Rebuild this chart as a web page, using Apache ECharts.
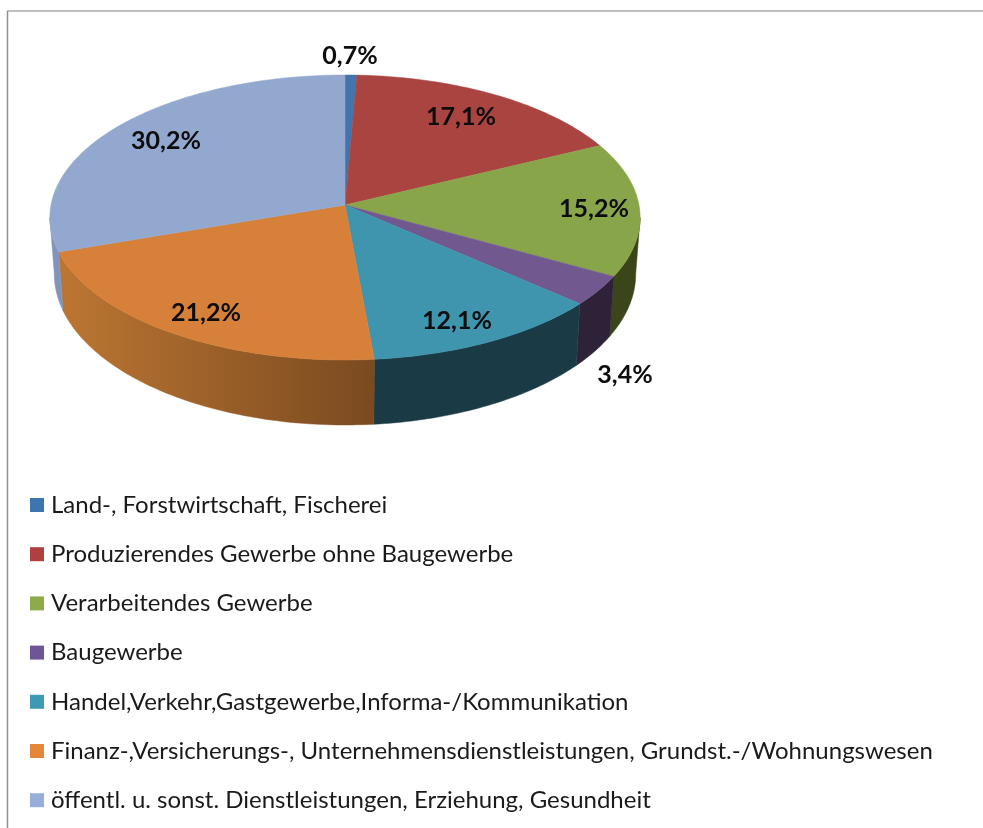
<!DOCTYPE html>
<html>
<head>
<meta charset="utf-8">
<style>
  html, body { margin: 0; padding: 0; background: #fff; }
  #chart { width: 983px; height: 828px; }
</style>
<script src="https://cdn.jsdelivr.net/npm/echarts@6/dist/echarts.min.js"></script>
</head>
<body>
<div id="chart"></div>
<script>
'use strict'

const categories = [
  'Land-, Forstwirtschaft, Fischerei',
  'Produzierendes Gewerbe ohne Baugewerbe',
  'Verarbeitendes Gewerbe',
  'Baugewerbe',
  'Handel,Verkehr,Gastgewerbe,Informa-/Kommunikation',
  'Finanz-,Versicherungs-, Unternehmensdienstleistungen, Grundst.-/Wohnungswesen',
  'öffentl. u. sonst. Dienstleistungen, Erziehung, Gesundheit'
]
const shares = [0.7, 17.1, 15.2, 3.4, 12.1, 21.2, 30.2]

const topColors = ['#4374ab', '#a94441', '#89a54a', '#71588f', '#4095ae', '#d6803a', '#92a8ce']
const legendColors = ['#3f75ae', '#b03f3f', '#8eab4b', '#6f5597', '#3e9ab2', '#e4873b', '#97aeda']
const wallColors = [
  ['#2b4a70', '#2b4a70'],
  ['#6a2b2a', '#6a2b2a'],
  ['#3a4519', '#3c4618'],
  ['#2e2239', '#2e2239'],
  ['#1a3a46', '#1d4250'],
  ['#7a4a20', '#bc7632'],
  ['#66789c', '#8094bc']
]
// label centres in page pixels
const labelPos = [[350, 56], [461, 117], [594, 209], [625, 375], [457, 321], [206, 313], [166, 141]]

const total = shares.reduce((a, b) => a + b, 0)
const starts = shares.map((_, i) => shares.slice(0, i).reduce((a, b) => a + b, 0))

// tilted disc: the apex sits above the ellipse centre because of the perspective
const cx = 345, cy = 205, kx = 294, ky = 141.4, persp = -0.0877
const wallFrom = 95, wallTo = 265

function rim (deg) {
  const t = deg * Math.PI / 180
  const u = Math.sin(t), v = -Math.cos(t)
  const d = 1 + persp * v
  return [cx + kx * u / d, cy + ky * v / d]
}
function rimLow (deg) {
  const p = rim(deg)
  return [cx + (p[0] - cx) * 0.985, p[1] + 60 + (p[1] - 277) * 0.06]
}
function arc (from, to, fn) {
  const pts = []
  const n = Math.max(2, Math.ceil(to - from))
  for (let i = 0; i <= n; i++) pts.push(fn(from + (to - from) * i / n))
  return pts
}

function renderSlice (params, api) {
  const i = params.seriesIndex
  const a0 = starts[i] / total * 360
  const a1 = a0 + api.value(0) / total * 360
  const children = []
  const w0 = Math.max(a0, wallFrom), w1 = Math.min(a1, wallTo)
  if (w1 > w0) {
    const upper = arc(w0, w1, rim)
    const lower = arc(w0, w1, rimLow).reverse()
    const fill = new echarts.graphic.LinearGradient(373, 0, 60, 0, [
      { offset: 0, color: wallColors[i][0] },
      { offset: 1, color: wallColors[i][1] }
    ], true)
    children.push({
      type: 'polygon',
      z2: 1,
      shape: { points: upper.concat(lower) },
      style: { fill: fill, stroke: fill, lineWidth: 0.5 }
    })
  }
  children.push({
    type: 'polygon',
    z2: 2,
    shape: { points: [[cx, cy]].concat(arc(a0, a1, rim)) },
    style: { fill: topColors[i], stroke: topColors[i], lineWidth: 0.5 }
  })
  children.push({
    type: 'text',
    z2: 3,
    style: {
      x: labelPos[i][0],
      y: labelPos[i][1],
      text: String(api.value(0)).replace('.', ',') + '%',
      font: 'bold 25px Lato',
      fill: '#0d0d0d',
      align: 'center',
      verticalAlign: 'middle'
    }
  })
  return { type: 'group', children: children }
}

const chart = echarts.init(document.getElementById('chart'), null, { renderer: 'canvas' })
chart.setOption({
  animation: false,
  backgroundColor: '#fff',
  graphic: [
    { type: 'line', shape: { x1: 7, y1: 11, x2: 983, y2: 11 }, style: { stroke: '#ababab', lineWidth: 1.5 } },
    { type: 'line', shape: { x1: 7.5, y1: 11, x2: 7.5, y2: 828 }, style: { stroke: '#8f8f8f', lineWidth: 1.5 } }
  ],
  legend: {
    orient: 'vertical',
    left: 25,
    top: 485,
    icon: 'rect',
    itemWidth: 14,
    itemHeight: 14,
    itemGap: 19.2,
    selectedMode: false,
    data: categories.map((name, i) => ({ name: name, itemStyle: { color: legendColors[i] } })),
    textStyle: {
      fontFamily: 'Lato',
      fontSize: 24,
      color: '#1a1a1a',
      lineHeight: 30,
      padding: [0, 0, 0, 2]
    }
  },
  series: categories.map((name, i) => ({
    type: 'custom',
    name: name,
    coordinateSystem: 'none',
    silent: true,
    itemStyle: { color: topColors[i] },
    data: [[shares[i]]],
    renderItem: renderSlice
  }))
})
</script>
</body>
</html>
